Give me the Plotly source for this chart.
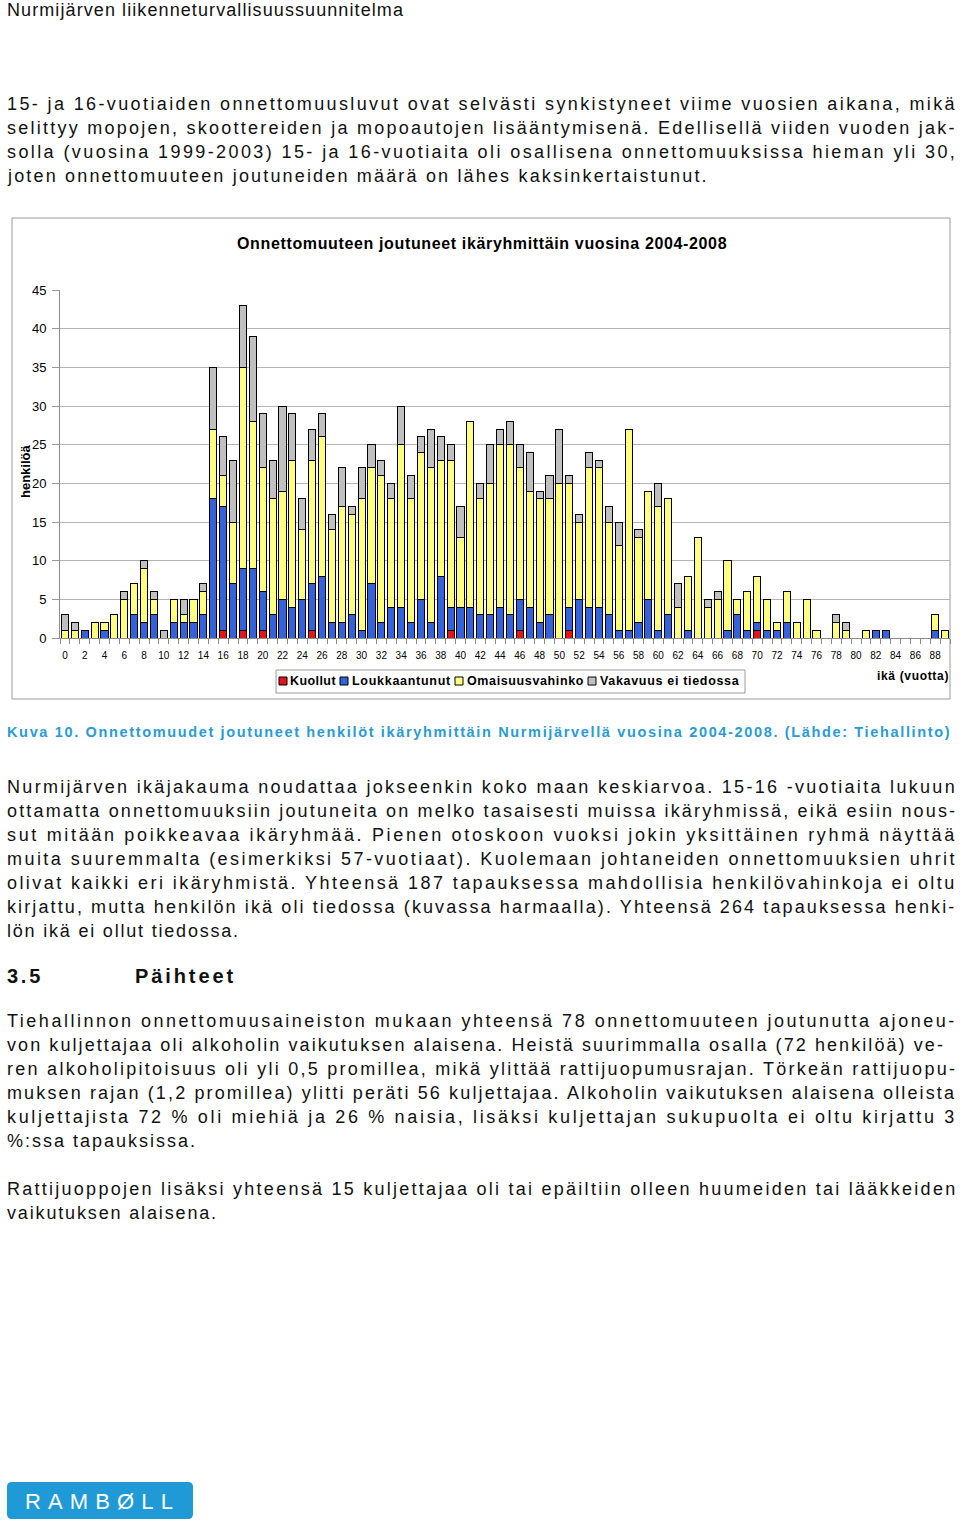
import plotly.graph_objects as go

# ---------------- data ----------------
ages = list(range(0, 90))
kuollut = [0]*16 + [1, 0, 1, 0, 1, 0, 0, 0, 0, 1] + [0]*13 + [1] + [0]*6 + [1] + [0]*4 + [1] + [0]*18 + [1] + [0]*19
loukkaantunut = [0, 0, 1, 0, 1, 0, 0, 3, 2, 3, 0, 2, 2, 2, 3, 18, 16, 7, 8, 9,
                 5, 3, 5, 4, 5, 6, 8, 2, 2, 3, 1, 7, 2, 4, 4, 2, 5, 2, 8, 3,
                 4, 4, 3, 3, 4, 3, 4, 4, 2, 3, 0, 3, 5, 4, 4, 3, 1, 1, 2, 5,
                 1, 3, 0, 1, 0, 0, 0, 1, 3, 1, 1, 1, 1, 2, 0, 0, 0, 0, 0, 0,
                 0, 0, 1, 1, 0, 0, 0, 0, 1, 0]
omaisuus = [1, 1, 0, 2, 1, 3, 5, 4, 7, 2, 0, 3, 1, 3, 3, 9, 4, 8, 26, 19,
            16, 15, 14, 19, 9, 16, 18, 12, 15, 13, 17, 15, 19, 14, 21, 16, 19, 20, 15, 19,
            9, 24, 15, 17, 21, 22, 17, 15, 16, 15, 20, 16, 10, 18, 18, 12, 11, 26, 11, 14,
            16, 15, 4, 7, 13, 4, 5, 9, 2, 5, 6, 4, 1, 4, 2, 5, 1, 0, 2, 1,
            0, 1, 0, 0, 0, 0, 0, 0, 2, 1]
vakavuus = [2, 1, 0, 0, 0, 0, 1, 0, 1, 1, 1, 0, 2, 0, 1, 8, 5, 8, 8, 11,
            7, 5, 11, 6, 4, 4, 3, 2, 5, 1, 4, 3, 2, 2, 5, 3, 2, 5, 3, 2,
            4, 0, 2, 5, 2, 3, 3, 5, 1, 3, 7, 1, 1, 2, 1, 2, 3, 0, 1, 0,
            3, 0, 3, 0, 0, 1, 1, 0, 0, 0, 0, 0, 0, 0, 0, 0, 0, 0, 1, 1,
            0, 0, 0, 0, 0, 0, 0, 0, 0, 0]
series_names = ["Kuollut", "Loukkaantunut", "Omaisuusvahinko", "Vakavuus ei tiedossa"]
series_colors = ["#e4141b", "#3362db", "#ffff80", "#c0c0c0"]
x_ticks = list(range(0, 90, 2))
y_ticks = [0, 5, 10, 15, 20, 25, 30, 35, 40, 45]

W, H = 960, 1521

def PX(x):
    return x / W

def PY(y):
    return 1 - y / H

# Arial / Liberation Sans advance widths (1/1000 em)
REG = {' ': 278, '%': 889, '(': 333, ')': 333, ',': 278, '-': 333, '.': 278, ':': 278,
       'A': 667, 'B': 667, 'C': 722, 'D': 722, 'E': 667, 'F': 611, 'G': 778, 'H': 722, 'I': 278,
       'J': 500, 'K': 667, 'L': 556, 'M': 833, 'N': 722, 'O': 778, 'P': 667, 'R': 722, 'S': 667,
       'T': 611, 'U': 722, 'V': 667, 'W': 944, 'Y': 667, 'Ø': 778,
       'a': 556, 'b': 556, 'c': 500, 'd': 556, 'e': 556, 'f': 278, 'g': 556, 'h': 556, 'i': 222,
       'j': 222, 'k': 500, 'l': 222, 'm': 833, 'n': 556, 'o': 556, 'p': 556, 'q': 556, 'r': 333,
       's': 500, 't': 278, 'u': 556, 'v': 500, 'w': 722, 'x': 500, 'y': 500, 'z': 500,
       'ä': 556, 'ö': 556, 'Ä': 667, 'Ö': 778}
BOLD = {' ': 278, '%': 889, '(': 333, ')': 333, ',': 278, '-': 333, '.': 278, ':': 333,
        'A': 722, 'B': 722, 'C': 722, 'D': 722, 'E': 667, 'F': 611, 'G': 778, 'H': 722, 'I': 278,
        'J': 556, 'K': 722, 'L': 611, 'M': 833, 'N': 722, 'O': 778, 'P': 667, 'R': 722, 'S': 667,
        'T': 611, 'U': 722, 'V': 667, 'W': 944, 'Y': 667,
        'a': 556, 'b': 611, 'c': 556, 'd': 611, 'e': 556, 'f': 333, 'g': 611, 'h': 611, 'i': 278,
        'j': 278, 'k': 556, 'l': 278, 'm': 889, 'n': 611, 'o': 611, 'p': 611, 'q': 611, 'r': 389,
        's': 556, 't': 333, 'u': 611, 'v': 556, 'w': 778, 'x': 556, 'y': 556, 'z': 500,
        'ä': 556, 'ö': 611, 'Ä': 722, 'Ö': 778}

def text_w(s, size, bold):
    tab = BOLD if bold else REG
    return sum(tab.get(c, 556) for c in s) * size / 1000.0

FONT = "Arial, Liberation Sans, Helvetica, sans-serif"
annotations = []

def line(text, x0, x1, yc, size, bold=False, color="#111111"):
    nat = text_w(text, size, bold)
    ls = (x1 - x0 - nat) / max(len(text), 1)
    t = f"<span style='letter-spacing:{ls:.2f}px'>{text}</span>"
    if bold:
        t = "<b>" + t + "</b>"
    annotations.append(dict(text=t, x=PX(x0), y=PY(yc), xref="paper", yref="paper",
                            xanchor="left", yanchor="middle", showarrow=False,
                            borderpad=0, borderwidth=0,
                            font=dict(family=FONT, size=size, color=color)))

BODY = 18
# header
line("Nurmijärven liikenneturvallisuussuunnitelma", 7, 404, 10, 18)

p1 = [("15- ja 16-vuotiaiden onnettomuusluvut ovat selvästi synkistyneet viime vuosien aikana, mikä", 957),
      ("selittyy mopojen, skoottereiden ja mopoautojen lisääntymisenä. Edellisellä viiden vuoden jak-", 957),
      ("solla (vuosina 1999-2003) 15- ja 16-vuotiaita oli osallisena onnettomuuksissa hieman yli 30,", 957),
      ("joten onnettomuuteen joutuneiden määrä on lähes kaksinkertaistunut.", 708)]
for i, (t, xe) in enumerate(p1):
    line(t, 7, xe, 104 + 24 * i, BODY)

line("Kuva 10. Onnettomuudet joutuneet henkilöt ikäryhmittäin Nurmijärvellä vuosina 2004-2008. (Lähde: Tiehallinto)",
     7, 951, 732, 14.5, bold=True, color="#2a9bd4")

p2 = [("Nurmijärven ikäjakauma noudattaa jokseenkin koko maan keskiarvoa. 15-16 -vuotiaita lukuun", 957),
      ("ottamatta onnettomuuksiin joutuneita on melko tasaisesti muissa ikäryhmissä, eikä esiin nous-", 957),
      ("sut mitään poikkeavaa ikäryhmää. Pienen otoskoon vuoksi jokin yksittäinen ryhmä näyttää", 957),
      ("muita suuremmalta (esimerkiksi 57-vuotiaat). Kuolemaan johtaneiden onnettomuuksien uhrit", 957),
      ("olivat kaikki eri ikäryhmistä. Yhteensä 187 tapauksessa mahdollisia henkilövahinkoja ei oltu", 957),
      ("kirjattu, mutta henkilön ikä oli tiedossa (kuvassa harmaalla). Yhteensä 264 tapauksessa henki-", 957),
      ("lön ikä ei ollut tiedossa.", 240)]
for i, (t, xe) in enumerate(p2):
    line(t, 7, xe, 787 + 24 * i, BODY)

line("3.5", 7, 43, 976, 20, bold=True)
line("Päihteet", 135, 236, 976, 20, bold=True)

p3 = [("Tiehallinnon onnettomuusaineiston mukaan yhteensä 78 onnettomuuteen joutunutta ajoneu-", 957),
      ("von kuljettajaa oli alkoholin vaikutuksen alaisena. Heistä suurimmalla osalla (72 henkilöä) ve-", 945),
      ("ren alkoholipitoisuus oli yli 0,5 promillea, mikä ylittää rattijuopumusrajan. Törkeän rattijuopu-", 957),
      ("muksen rajan (1,2 promillea) ylitti peräti 56 kuljettajaa. Alkoholin vaikutuksen alaisena olleista", 957),
      ("kuljettajista 72 % oli miehiä ja 26 % naisia, lisäksi kuljettajan sukupuolta ei oltu kirjattu 3", 957),
      ("%:ssa tapauksissa.", 197)]
for i, (t, xe) in enumerate(p3):
    line(t, 7, xe, 1021 + 24 * i, BODY)

p4 = [("Rattijuoppojen lisäksi yhteensä 15 kuljettajaa oli tai epäiltiin olleen huumeiden tai lääkkeiden", 957),
      ("vaikutuksen alaisena.", 218)]
for i, (t, xe) in enumerate(p4):
    line(t, 7, xe, 1189 + 24 * i, BODY)

# chart texts
line("Onnettomuuteen joutuneet ikäryhmittäin vuosina 2004-2008", 237, 727, 243, 16, bold=True, color="#000000")
line("ikä (vuotta)", 877, 949, 676, 12, bold=True, color="#000000")
annotations.append(dict(text="<b>henkilöä</b>", x=PX(25), y=PY(471), xref="paper", yref="paper",
                        xanchor="center", yanchor="middle", textangle=-90, showarrow=False,
                        borderpad=0, borderwidth=0,
                        font=dict(family=FONT, size=13, color="#000000")))

leg_sq_x = [283, 344, 459, 592]
leg_txt = [(290, 336), (352, 451), (467, 584), (600, 740)]
shapes = []
for name, col, sx, (tx0, tx1) in zip(series_names, series_colors, leg_sq_x, leg_txt):
    shapes.append(dict(type="rect", xref="paper", yref="paper",
                       x0=PX(sx - 4), x1=PX(sx + 4), y0=PY(685), y1=PY(677),
                       fillcolor=col, line=dict(color="#000000", width=1)))
    line(name, tx0, tx1, 681, 12.5, bold=True, color="#000000")

# frames
shapes.append(dict(type="rect", xref="paper", yref="paper", x0=PX(12), x1=PX(950),
                   y0=PY(699), y1=PY(218), line=dict(color="#9a9a9a", width=1), layer="below"))
shapes.append(dict(type="rect", xref="paper", yref="paper", x0=PX(276), x1=PX(745),
                   y0=PY(693), y1=PY(670), line=dict(color="#9a9a9a", width=1)))

# logo
lx0, lx1, ly0, ly1, r = 7, 193, 1482, 1519, 5
path = (f"M {PX(lx0 + r)} {PY(ly0)} L {PX(lx1 - r)} {PY(ly0)} Q {PX(lx1)} {PY(ly0)} {PX(lx1)} {PY(ly0 + r)} "
        f"L {PX(lx1)} {PY(ly1 - r)} Q {PX(lx1)} {PY(ly1)} {PX(lx1 - r)} {PY(ly1)} "
        f"L {PX(lx0 + r)} {PY(ly1)} Q {PX(lx0)} {PY(ly1)} {PX(lx0)} {PY(ly1 - r)} "
        f"L {PX(lx0)} {PY(ly0 + r)} Q {PX(lx0)} {PY(ly0)} {PX(lx0 + r)} {PY(ly0)} Z")
shapes.append(dict(type="path", xref="paper", yref="paper", path=path,
                   fillcolor="#1f9ad6", line=dict(width=0)))
line("RAMBØLL", 25, 180, 1501, 22, color="#ffffff")

# ---------------- figure ----------------
fig = go.Figure()
for name, vals, col in zip(series_names, [kuollut, loukkaantunut, omaisuus, vakavuus], series_colors):
    fig.add_trace(go.Bar(x=ages, y=[v if v else None for v in vals], name=name,
                         marker=dict(color=col, line=dict(color="#000000", width=1)),
                         showlegend=False))

fig.update_layout(
    width=W, height=H, barmode="stack", bargap=0.28,
    margin=dict(l=0, r=0, t=0, b=0, autoexpand=False),
    paper_bgcolor="white", plot_bgcolor="white",
    font=dict(family=FONT, color="#000000"),
    annotations=annotations, shapes=shapes,
    xaxis=dict(domain=[PX(60), PX(950)], range=[-0.5, 89.5], tickmode="array",
               tickvals=x_ticks, ticktext=[str(v) for v in x_ticks],
               ticks="outside", ticklen=8, tickcolor="rgba(0,0,0,0)",
               tickfont=dict(size=10, family=FONT), showgrid=False, zeroline=False,
               showline=True, linecolor="#8c8c8c", linewidth=1,
               minor=dict(tickmode="array", tickvals=[a - 0.5 for a in ages] + [89.5],
                          ticks="outside", ticklen=5, tickcolor="#8c8c8c", showgrid=False)),
    yaxis=dict(domain=[PY(638), PY(290)], range=[0, 45], tickmode="array", tickvals=y_ticks,
               ticks="outside", ticklen=7, tickcolor="#9a9a9a", ticklabelstandoff=3,
               tickfont=dict(size=13, family=FONT), showgrid=True, gridcolor="#b4b4b4",
               gridwidth=1, zeroline=False, showline=True, linecolor="#8c8c8c", linewidth=1,
               mirror=False),
)

fig.write_html("out.html", config={"displayModeBar": False},
               post_script="document.body.style.margin='0';document.body.style.overflow='hidden';")
